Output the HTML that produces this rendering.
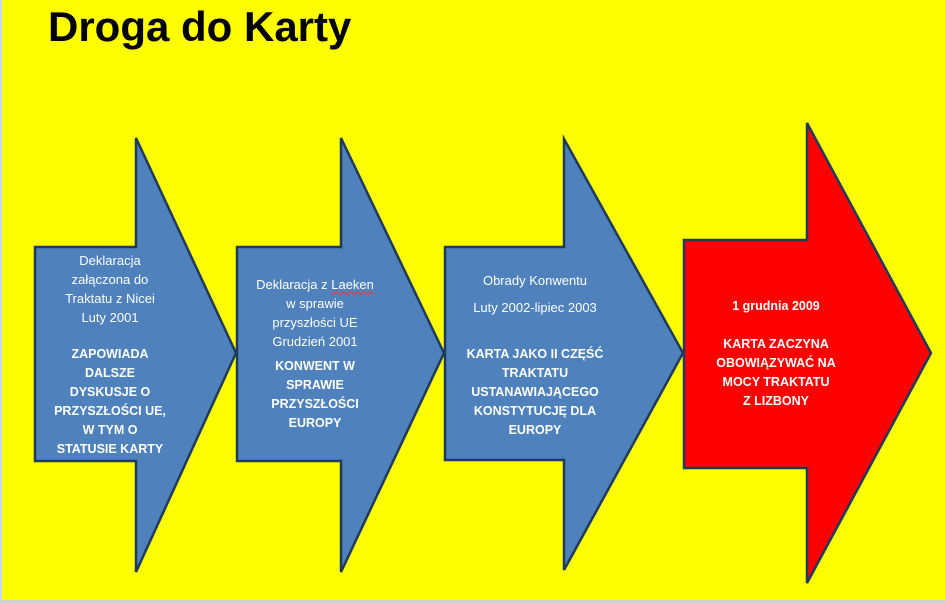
<!DOCTYPE html>
<html><head><meta charset="utf-8"><style>
body{margin:0;width:945px;height:603px;background:#ffff00;position:relative;overflow:hidden;font-family:"Liberation Sans",sans-serif;}
.t{position:absolute;color:#fff;text-align:center;white-space:nowrap;font-size:13px;line-height:19px;transform:translateX(-50%);}
.b{font-weight:bold;font-size:12.5px;}
h1{position:absolute;left:48px;top:3px;margin:0;font-size:42px;font-weight:bold;color:#000;}
</style></head><body>
<div style="position:absolute;left:0;top:0;width:2px;height:603px;background:#c8d8f0"></div>
<div style="position:absolute;left:0;top:600px;width:945px;height:3px;background:#d0d0d0"></div>
<h1>Droga do Karty</h1>
<svg width="945" height="603" style="position:absolute;left:0;top:0">
<g stroke="#1f3a5a" stroke-width="2.5" stroke-linejoin="miter">
<polygon fill="#4f81bd" points="35,247 136,247 136,138 236,353 136,572 136,461 35,461"/>
<polygon fill="#4f81bd" points="237,247 341,247 341,138 444,353 341,572 341,461 237,461"/>
<polygon fill="#4f81bd" points="445,247 564,247 564,139 683,353 564,570 564,460 445,460"/>
<polygon fill="#ff0000" points="684,240 807,240 807,123 931,353 807,583 807,468 684,468"/>
</g></svg>
<div class="t" style="left:110px;top:251px">Deklaracja<br>załączona do<br>Traktatu z Nicei<br>Luty 2001</div>
<div class="t b" style="left:110px;top:345px">ZAPOWIADA<br>DALSZE<br>DYSKUSJE O<br>PRZYSZŁOŚCI UE,<br>W TYM O<br>STATUSIE KARTY</div>
<div class="t" style="left:315px;top:275px">Deklaracja z <span style="text-decoration:underline wavy #e04040">Laeken</span><br>w sprawie<br>przyszłości UE<br>Grudzień 2001</div>
<div class="t b" style="left:315px;top:357px">KONWENT W<br>SPRAWIE<br>PRZYSZŁOŚCI<br>EUROPY</div>
<div class="t" style="left:535px;top:267px;line-height:27px">Obrady Konwentu<br>Luty 2002-lipiec 2003</div>
<div class="t b" style="left:535px;top:345px">KARTA JAKO II CZĘŚĆ<br>TRAKTATU<br>USTANAWIAJĄCEGO<br>KONSTYTUCJĘ DLA<br>EUROPY</div>
<div class="t b" style="left:776px;top:297px">1 grudnia 2009</div>
<div class="t b" style="left:776px;top:335px">KARTA ZACZYNA<br>OBOWIĄZYWAĆ NA<br>MOCY TRAKTATU<br>Z LIZBONY</div>
</body></html>
